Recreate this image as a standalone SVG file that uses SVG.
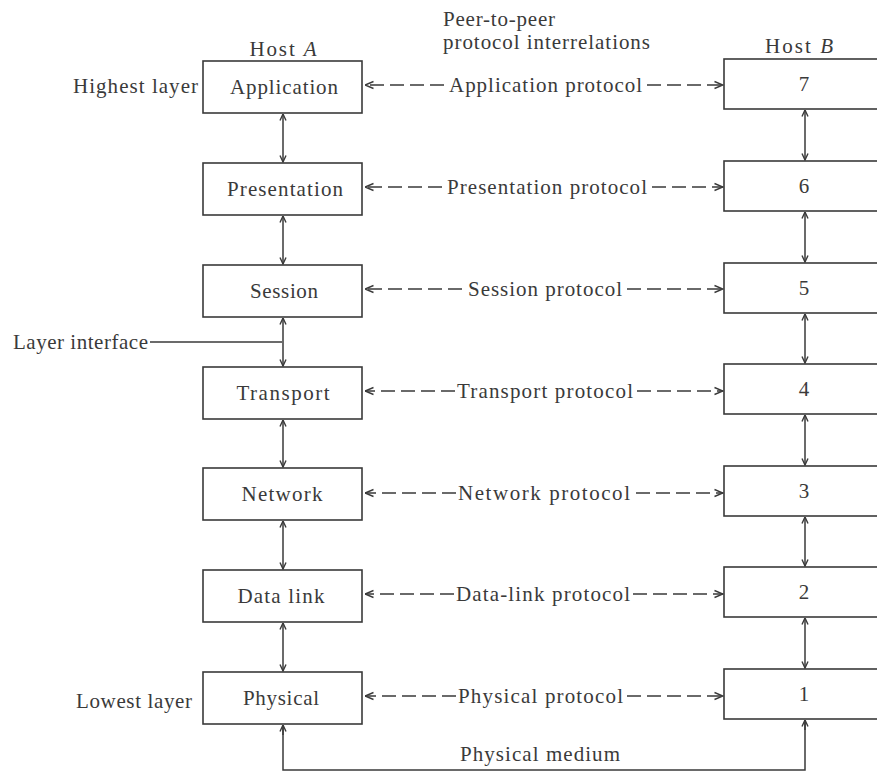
<svg xmlns="http://www.w3.org/2000/svg" width="877" height="772" viewBox="0 0 877 772">
<style>
text{font-family:"Liberation Serif","Times New Roman",serif;font-size:21px;fill:#3a3a3a}
.c{text-anchor:middle}
.box{fill:#fff;stroke:#3a3a3a;stroke-width:1.6}
.ln{stroke:#3a3a3a;stroke-width:1.5;fill:none}
.dash{stroke:#3a3a3a;stroke-width:1.5;fill:none;stroke-dasharray:14 6}
</style>
<defs>
<marker id="ah" viewBox="0 0 10 10" refX="9.5" refY="5" markerWidth="10" markerHeight="10" markerUnits="userSpaceOnUse" orient="auto-start-reverse">
<path d="M1,1.5 L9.5,5 L1,8.5" fill="none" stroke="#3a3a3a" stroke-width="1.4"/>
</marker>
<marker id="vh" viewBox="0 0 8 8" refX="7.5" refY="4" markerWidth="8" markerHeight="8" markerUnits="userSpaceOnUse" orient="auto-start-reverse">
<path d="M1,1 L7.5,4 L1,7" fill="none" stroke="#3a3a3a" stroke-width="1.4"/>
</marker>
</defs>
<rect width="877" height="772" fill="#fff"/>

<g id="labels">
<text x="283" y="56" class="c" textLength="67" lengthAdjust="spacing">Host <tspan font-style="italic">A</tspan></text>
<text x="799" y="53" class="c" textLength="68" lengthAdjust="spacing">Host <tspan font-style="italic">B</tspan></text>
<text x="443" y="26" textLength="112" lengthAdjust="spacing">Peer-to-peer</text>
<text x="443" y="49" textLength="207" lengthAdjust="spacing">protocol interrelations</text>
<text x="73" y="93" textLength="125" lengthAdjust="spacing">Highest layer</text>
<text x="13" y="349" textLength="135" lengthAdjust="spacing">Layer interface</text>
<text x="76" y="708" textLength="116" lengthAdjust="spacing">Lowest layer</text>
<text x="460" y="761" textLength="160" lengthAdjust="spacing">Physical medium</text>
</g>

<g id="hostA-7"><rect class="box" x="203" y="61" width="159" height="52"/><text x="284" y="94" class="c" textLength="108" lengthAdjust="spacing">Application</text></g>
<g id="hostA-6"><rect class="box" x="203" y="163" width="159" height="52"/><text x="285" y="196" class="c" textLength="116" lengthAdjust="spacing">Presentation</text></g>
<g id="hostA-5"><rect class="box" x="203" y="265" width="159" height="52"/><text x="284" y="298" class="c" textLength="68" lengthAdjust="spacing">Session</text></g>
<g id="hostA-4"><rect class="box" x="203" y="367" width="159" height="52"/><text x="283" y="400" class="c" textLength="93" lengthAdjust="spacing">Transport</text></g>
<g id="hostA-3"><rect class="box" x="203" y="468" width="159" height="52"/><text x="282" y="501" class="c" textLength="81" lengthAdjust="spacing">Network</text></g>
<g id="hostA-2"><rect class="box" x="203" y="570" width="159" height="52"/><text x="281" y="603" class="c" textLength="87" lengthAdjust="spacing">Data link</text></g>
<g id="hostA-1"><rect class="box" x="203" y="672" width="159" height="52"/><text x="281" y="705" class="c" textLength="76" lengthAdjust="spacing">Physical</text></g>

<g id="hostB-7"><rect class="box" x="724" y="59" width="162" height="50"/><text x="804" y="91" class="c">7</text></g>
<g id="hostB-6"><rect class="box" x="724" y="161" width="162" height="50"/><text x="804" y="193" class="c">6</text></g>
<g id="hostB-5"><rect class="box" x="724" y="263" width="162" height="50"/><text x="804" y="295" class="c">5</text></g>
<g id="hostB-4"><rect class="box" x="724" y="364" width="162" height="50"/><text x="804" y="396" class="c">4</text></g>
<g id="hostB-3"><rect class="box" x="724" y="466" width="162" height="50"/><text x="804" y="498" class="c">3</text></g>
<g id="hostB-2"><rect class="box" x="724" y="567" width="162" height="50"/><text x="804" y="599" class="c">2</text></g>
<g id="hostB-1"><rect class="box" x="724" y="669" width="162" height="50"/><text x="804" y="701" class="c">1</text></g>

<g id="connectors">
<line class="dash" x1="444" y1="85" x2="365" y2="85" marker-end="url(#ah)"/>
<line class="dash" x1="647" y1="85" x2="723" y2="85" marker-end="url(#ah)"/>
<text x="449" y="92" textLength="193" lengthAdjust="spacing">Application protocol</text>

<line class="dash" x1="442" y1="187" x2="365" y2="187" marker-end="url(#ah)"/>
<line class="dash" x1="652" y1="187" x2="723" y2="187" marker-end="url(#ah)"/>
<text x="447" y="194" textLength="200" lengthAdjust="spacing">Presentation protocol</text>

<line class="dash" x1="462" y1="289" x2="365" y2="289" marker-end="url(#ah)"/>
<line class="dash" x1="627" y1="289" x2="723" y2="289" marker-end="url(#ah)"/>
<text x="468" y="296" textLength="154" lengthAdjust="spacing">Session protocol</text>

<line class="dash" x1="455" y1="391" x2="365" y2="391" marker-end="url(#ah)"/>
<line class="dash" x1="637" y1="391" x2="723" y2="391" marker-end="url(#ah)"/>
<text x="457" y="398" textLength="176" lengthAdjust="spacing">Transport protocol</text>

<line class="dash" x1="456" y1="493" x2="365" y2="493" marker-end="url(#ah)"/>
<line class="dash" x1="636" y1="493" x2="723" y2="493" marker-end="url(#ah)"/>
<text x="458" y="500" textLength="172" lengthAdjust="spacing">Network protocol</text>

<line class="dash" x1="454" y1="594" x2="365" y2="594" marker-end="url(#ah)"/>
<line class="dash" x1="633" y1="594" x2="723" y2="594" marker-end="url(#ah)"/>
<text x="456" y="601" textLength="174" lengthAdjust="spacing">Data-link protocol</text>

<line class="dash" x1="456" y1="696" x2="365" y2="696" marker-end="url(#ah)"/>
<line class="dash" x1="627" y1="696" x2="723" y2="696" marker-end="url(#ah)"/>
<text x="458" y="703" textLength="165" lengthAdjust="spacing">Physical protocol</text>

<line class="ln" x1="283" y1="114" x2="283" y2="162" marker-start="url(#vh)" marker-end="url(#vh)"/>
<line class="ln" x1="283" y1="216" x2="283" y2="264" marker-start="url(#vh)" marker-end="url(#vh)"/>
<line class="ln" x1="283" y1="318" x2="283" y2="366" marker-start="url(#vh)" marker-end="url(#vh)"/>
<line class="ln" x1="283" y1="420" x2="283" y2="467" marker-start="url(#vh)" marker-end="url(#vh)"/>
<line class="ln" x1="283" y1="521" x2="283" y2="569" marker-start="url(#vh)" marker-end="url(#vh)"/>
<line class="ln" x1="283" y1="623" x2="283" y2="671" marker-start="url(#vh)" marker-end="url(#vh)"/>
<line class="ln" x1="805" y1="110" x2="805" y2="160" marker-start="url(#vh)" marker-end="url(#vh)"/>
<line class="ln" x1="805" y1="212" x2="805" y2="262" marker-start="url(#vh)" marker-end="url(#vh)"/>
<line class="ln" x1="805" y1="314" x2="805" y2="363" marker-start="url(#vh)" marker-end="url(#vh)"/>
<line class="ln" x1="805" y1="415" x2="805" y2="465" marker-start="url(#vh)" marker-end="url(#vh)"/>
<line class="ln" x1="805" y1="517" x2="805" y2="566" marker-start="url(#vh)" marker-end="url(#vh)"/>
<line class="ln" x1="805" y1="618" x2="805" y2="668" marker-start="url(#vh)" marker-end="url(#vh)"/>
<line class="ln" x1="150" y1="342" x2="282" y2="342"/>
<polyline class="ln" points="283,725 283,770 805,770 805,720"/>
<line class="ln" x1="283" y1="735" x2="283" y2="725" marker-end="url(#vh)"/>
<line class="ln" x1="805" y1="730" x2="805" y2="720" marker-end="url(#vh)"/>
</g>
</svg>
